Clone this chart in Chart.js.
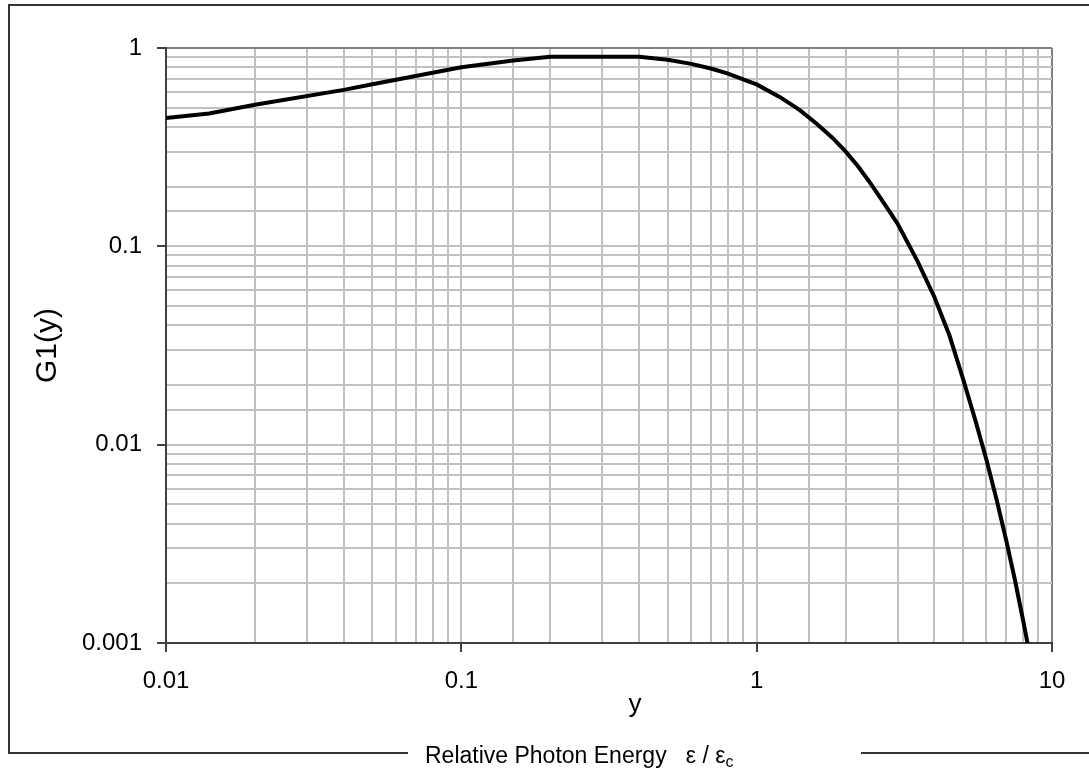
<!DOCTYPE html>
<html>
<head>
<meta charset="utf-8">
<script src="https://cdn.jsdelivr.net/npm/chart.js@4.4.1/dist/chart.umd.min.js"></script>
<style>
  html, body { margin: 0; padding: 0; background: #fff; }
  body { width: 1089px; height: 774px; position: relative; overflow: hidden; font-family: "Liberation Sans", Arial, sans-serif; }
  #frame { position: absolute; left: 8px; top: 4px; width: 1200px; height: 750px; box-sizing: border-box; border: 2px solid #333; }
  #chart { position: absolute; left: 0; top: 0; }
  #xtitle { position: absolute; left: 600px; width: 70px; top: 688px; text-align: center; font-size: 26px; line-height: 30px; color: #000; }
  #caption { position: absolute; left: 408px; width: 436px; padding-left: 17px; top: 742px; height: 26px; background: #fff; font-size: 23px; line-height: 26px; color: #000; white-space: nowrap; }
  #caption sub { font-size: 16px; vertical-align: -4px; }
</style>
</head>
<body>
<div id="frame"></div>
<canvas id="chart" width="1089" height="774"></canvas>
<div id="xtitle">y</div>
<div id="caption">Relative Photon Energy&nbsp;&nbsp; ε / ε<sub>c</sub></div>
<script>
// ✅ Data
const energy = [0.01, 0.014, 0.02, 0.04, 0.05, 0.1, 0.15, 0.2, 0.4, 0.5, 0.6, 0.7, 0.8, 0.9, 1.0,
  1.2, 1.4, 1.6, 1.8, 2.0, 2.2, 2.4, 2.6, 2.8, 3.0, 3.5, 4.0, 4.5, 5.0, 5.5, 6.0, 6.5, 7.0, 7.5, 8.0, 8.5, 9.0];
const g1 = [0.443, 0.468, 0.517, 0.615, 0.656, 0.80, 0.865, 0.904, 0.904, 0.872, 0.832, 0.788, 0.742, 0.694, 0.655,
  0.565, 0.486, 0.414, 0.354, 0.301, 0.254, 0.213, 0.179, 0.152, 0.130, 0.0845, 0.0554, 0.0354, 0.0214, 0.0133, 0.00837, 0.00525, 0.00329, 0.00206, 0.00128, 0.00080, 0.00050];

const xTicks = [0.01, 0.1, 1, 10];
const xTickLabels = ['0.01', '0.1', '1', '10'];
const yTicks = [0.001, 0.01, 0.1, 1];
const yTickLabels = ['0.001', '0.01', '0.1', '1'];

function findLabel(v, ticks, labels) {
  const i = ticks.findIndex(t => Math.abs(v / t - 1) < 1e-6);
  return i >= 0 ? labels[i] : '';
}
function isDecade(v) {
  const l = Math.log10(v);
  return Math.abs(l - Math.round(l)) < 1e-6;
}

const font = { family: '"Liberation Sans", Arial, sans-serif', size: 24 };

new Chart(document.getElementById('chart'), {
  type: 'scatter',
  data: {
    datasets: [{
      data: energy.map((e, i) => ({ x: e, y: g1[i] })),
      showLine: true,
      borderColor: '#000',
      borderWidth: 4,
      pointRadius: 0,
      tension: 0,
      clip: 0
    }]
  },
  options: {
    responsive: false,
    animation: false,
    devicePixelRatio: 1,
    layout: { padding: { top: 48, right: 37, bottom: 54, left: 0 } },
    plugins: { legend: { display: false }, tooltip: { enabled: false } },
    scales: {
      x: {
        type: 'logarithmic',
        min: 0.01,
        max: 10,
        afterFit: s => { s.height = 77; },
        border: { color: '#404040', width: 2 },
        grid: {
          color: ctx => (ctx.tick && Math.abs(ctx.tick.value - 10) < 1e-9) ? '#808080' : '#c0c0c0',
          lineWidth: 2,
          tickLength: 9,
          tickWidth: 2,
          tickColor: ctx => (ctx.tick && isDecade(ctx.tick.value)) ? '#404040' : 'rgba(0,0,0,0)'
        },
        ticks: {
          autoSkip: false,
          maxRotation: 0,
          padding: 15,
          color: '#000',
          font: font,
          callback: v => findLabel(v, xTicks, xTickLabels)
        }
      },
      y: {
        type: 'logarithmic',
        min: 0.001,
        max: 1,
        afterFit: s => { s.width = 166; },
        border: { color: '#404040', width: 2 },
        grid: {
          color: ctx => (ctx.tick && Math.abs(ctx.tick.value - 1) < 1e-9) ? '#808080' : '#c0c0c0',
          lineWidth: 2,
          tickLength: 9,
          tickWidth: 2,
          tickColor: ctx => (ctx.tick && isDecade(ctx.tick.value)) ? '#404040' : 'rgba(0,0,0,0)'
        },
        ticks: {
          autoSkip: false,
          padding: 15,
          color: '#000',
          font: font,
          callback: v => findLabel(v, yTicks, yTickLabels)
        },
        title: {
          display: true,
          text: 'G1(y)',
          color: '#000',
          font: { family: font.family, size: 30 },
          padding: { top: 30, bottom: 0 }
        }
      }
    }
  }
});
</script>
</body>
</html>
